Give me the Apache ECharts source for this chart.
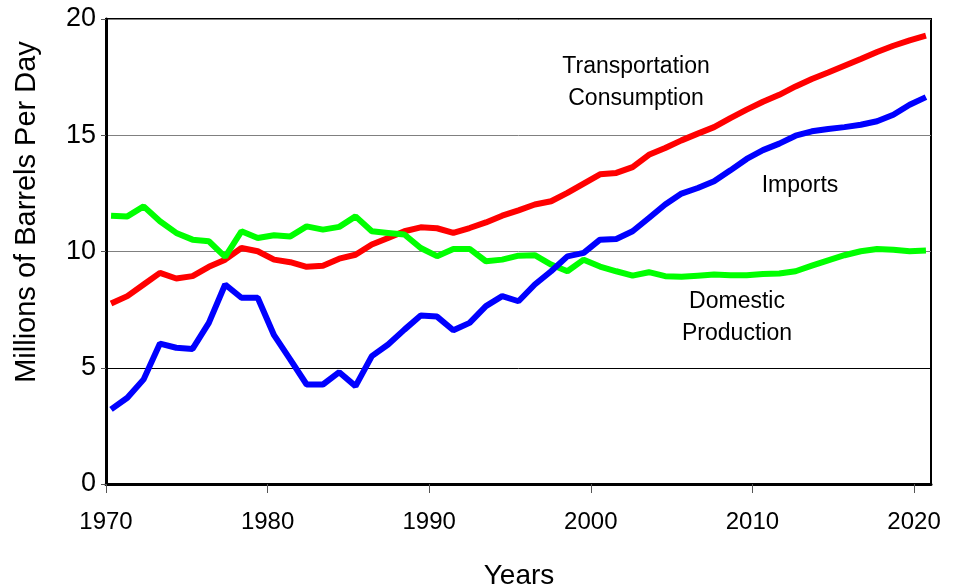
<!DOCTYPE html>
<html>
<head>
<meta charset="utf-8">
<script src="https://cdn.jsdelivr.net/npm/echarts@6/dist/echarts.min.js"></script>
<style>
html,body{margin:0;padding:0;background:#fff;}
#c{width:954px;height:588px;}
</style>
</head>
<body>
<div id="c"></div>
<script>
const years = [1970,1971,1972,1973,1974,1975,1976,1977,1978,1979,
  1980,1981,1982,1983,1984,1985,1986,1987,1988,1989,
  1990,1991,1992,1993,1994,1995,1996,1997,1998,1999,
  2000,2001,2002,2003,2004,2005,2006,2007,2008,2009,
  2010,2011,2012,2013,2014,2015,2016,2017,2018,2019,2020];

const transportation = [7.76,8.08,8.58,9.08,8.84,8.94,9.34,9.65,10.15,10.01,
  9.65,9.54,9.34,9.39,9.69,9.86,10.30,10.58,10.87,11.04,
  11.00,10.80,11.01,11.25,11.54,11.77,12.02,12.16,12.52,12.92,
  13.32,13.38,13.63,14.16,14.45,14.78,15.07,15.35,15.74,16.10,
  16.44,16.74,17.10,17.42,17.70,17.99,18.28,18.58,18.85,19.08,19.28];

const imports = [3.21,3.71,4.50,6.04,5.86,5.81,6.93,8.58,8.01,8.01,
  6.40,5.35,4.28,4.28,4.81,4.21,5.50,6.00,6.64,7.25,
  7.20,6.61,6.93,7.65,8.08,7.86,8.58,9.15,9.79,9.94,
  10.51,10.54,10.87,11.44,12.02,12.49,12.73,13.02,13.49,13.98,
  14.36,14.64,14.98,15.17,15.27,15.35,15.45,15.60,15.88,16.31,16.64];

const domestic = [11.54,11.51,11.94,11.30,10.80,10.51,10.44,9.77,10.87,10.58,
  10.70,10.65,11.08,10.94,11.06,11.51,10.87,10.80,10.73,10.15,
  9.80,10.11,10.11,9.58,9.65,9.82,9.84,9.44,9.15,9.65,
  9.35,9.15,8.96,9.11,8.94,8.91,8.96,9.01,8.98,8.98,
  9.03,9.05,9.15,9.39,9.62,9.84,10.01,10.11,10.08,10.01,10.04];

const xTickLabels = ['1970','1980','1990','2000','2010','2020'];
const yTickLabels = ['0','5','10','15','20'];

const FONT = '"Liberation Sans", Arial, sans-serif';

function pairs(vals){ return years.map((y,i)=>[y, vals[i]]); }

const chart = echarts.init(document.getElementById('c'), null, {renderer:'canvas'});
chart.setOption({
  animation:false,
  backgroundColor:'#fff',
  grid:{left:106, right:23, top:19, bottom:104, show:true, borderColor:'#000', borderWidth:2, backgroundColor:'transparent'},
  xAxis:[
    {type:'value', min:1969.69, max:2020.31, show:false, gridIndex:0},
    {type:'value', min:1970, max:2021.05, interval:10, gridIndex:0, position:'bottom',
      axisLine:{show:true, onZero:false, lineStyle:{color:'#000', width:3}},
      axisTick:{show:true, length:9, lineStyle:{color:'#555', width:1}},
      axisLabel:{margin:26, color:'#000', fontFamily:FONT, fontSize:24,
        formatter:(v)=>{const i=Math.round((v-1970)/10); return xTickLabels[i]||'';}},
      splitLine:{show:false}}
  ],
  yAxis:{type:'value', min:0, max:20, interval:5,
    axisLine:{show:true, lineStyle:{color:'#000', width:3}},
    axisTick:{show:true, length:5, lineStyle:{color:'#555', width:1}},
    axisLabel:{margin:10, color:'#000', fontFamily:FONT, fontSize:27,
      formatter:(v)=>yTickLabels[Math.round(v/5)]},
    splitLine:{show:true, lineStyle:{color:['#000','#000','#808080','#808080','#808080'], width:1}}
  },
  series:[
    {name:'Transportation Consumption', type:'line', xAxisIndex:0, data:pairs(transportation), showSymbol:false, symbol:'none',
      lineStyle:{color:'#FF0000', width:6}, z:2},
    {name:'Domestic Production', type:'line', xAxisIndex:0, data:pairs(domestic), showSymbol:false, symbol:'none',
      lineStyle:{color:'#00FF00', width:6}, z:3},
    {name:'Imports', type:'line', xAxisIndex:0, data:pairs(imports), showSymbol:false, symbol:'none',
      lineStyle:{color:'#0000FF', width:6}, z:4}
  ],
  graphic:[
    {type:'text', x:519, y:576, style:{text:'Years', fill:'#000', font:'28px '+FONT, textAlign:'center', textVerticalAlign:'middle'}},
    {type:'text', x:27, y:212, rotation:Math.PI/2, style:{text:'Millions of Barrels Per Day', fill:'#000', font:'29px '+FONT, textAlign:'center', textVerticalAlign:'middle'}},
    {type:'text', x:636, y:67, style:{text:'Transportation', fill:'#000', font:'23px '+FONT, textAlign:'center', textVerticalAlign:'middle'}},
    {type:'text', x:636, y:99, style:{text:'Consumption', fill:'#000', font:'23px '+FONT, textAlign:'center', textVerticalAlign:'middle'}},
    {type:'text', x:800, y:186, style:{text:'Imports', fill:'#000', font:'23px '+FONT, textAlign:'center', textVerticalAlign:'middle'}},
    {type:'text', x:737, y:302, style:{text:'Domestic', fill:'#000', font:'23px '+FONT, textAlign:'center', textVerticalAlign:'middle'}},
    {type:'text', x:737, y:334, style:{text:'Production', fill:'#000', font:'23px '+FONT, textAlign:'center', textVerticalAlign:'middle'}}
  ]
});
</script>
</body>
</html>
